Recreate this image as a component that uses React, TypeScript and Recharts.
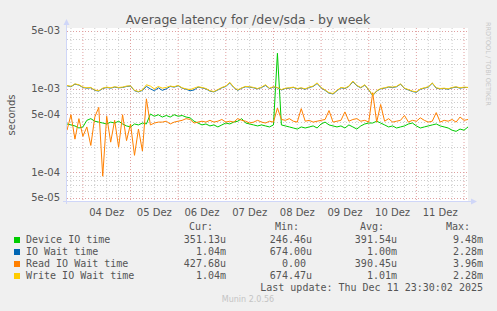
import React from "react"
import { LineChart, Line, XAxis, YAxis, CartesianGrid } from "recharts"

// sampling of the week graph (hours relative to 04 Dez 00:00)
const startHour = -8
const stepHours = 2

// Device IO time, units of 1e-4 s
const deviceIO = [
  3.8, 3.7, 3.6, 3.4, 3.5, 4.2, 4.4, 4.1, 4.0, 3.9, 3.8,
  4.0, 3.9, 4.1, 3.8, 3.6, 3.5, 3.8, 3.7, 3.9, 3.8,
  5.0, 4.7, 4.9, 4.6, 4.8, 4.6, 4.9, 4.7, 4.8, 4.6,
  4.5, 4.1, 3.9, 3.7, 3.8, 3.6, 3.7, 3.5, 3.7, 3.9,
  3.8, 4.0, 4.1, 4.4, 3.9, 3.8, 3.7, 3.6, 3.7, 3.6,
  3.5, 3.7, 26.7, 3.7, 3.6, 3.5, 3.4, 3.3, 3.5, 3.4,
  3.5, 3.6, 3.4, 3.8, 4.0, 3.7, 3.6, 3.5, 3.6, 3.4,
  3.7, 3.5, 3.3, 3.6, 3.8, 3.9, 3.9, 4.1, 3.9, 3.7,
  3.5, 3.6, 3.4, 3.5, 3.6, 3.8, 3.9, 3.6, 3.4, 3.5,
  3.6, 3.7, 3.8, 3.6, 3.5, 3.4, 3.2, 3.1, 3.3, 3.2, 3.5,
]

// IO Wait time, units of 1e-3 s
const ioWait = [
  1.09, 1.06, 1.14, 1.11, 1.04, 1.02, 1.03, 0.96, 0.94, 1.01, 1.04,
  1.02, 1.05, 1.03, 1.04, 1.07, 1.08, 0.95, 0.92, 0.96, 1.07,
  1.0, 0.95, 1.03, 0.96, 1.0, 1.07, 1.05, 1.09, 1.02, 0.99,
  0.95, 0.97, 1.05, 1.03, 1.0, 0.94, 0.92, 0.97, 1.03, 1.07,
  1.18, 1.04, 0.96, 1.02, 1.06, 1.05, 1.03, 1.0, 1.04, 1.1,
  1.01, 1.05, 1.03, 0.97, 1.01, 1.02, 1.04, 1.0, 1.02, 0.99,
  1.04, 1.07, 1.16, 1.03, 0.96, 0.89, 0.87, 0.95, 1.03, 1.01,
  1.07, 1.22, 1.09, 1.03, 1.11, 0.97, 0.83, 0.94, 1.0, 1.02,
  1.05, 1.04, 1.06, 1.14, 1.01, 0.97, 0.93, 0.91, 0.99, 1.02,
  1.05, 1.17, 1.02, 1.0, 1.01, 0.99, 1.03, 1.05, 1.02, 1.04, 1.04,
]

// Read IO Wait time, units of 1e-4 s
const readWait = [
  3.2, 4.9, 2.5, 4.4, 2.7, 3.5, 2.1, 4.6, 6.0, 0.9, 4.7,
  2.3, 4.2, 2.0, 4.9, 2.4, 3.8, 1.6, 3.3, 1.8, 7.6,
  3.7, 3.9, 4.0, 4.0, 4.1, 3.8, 4.0, 4.1, 4.2, 4.4,
  4.3, 3.9, 4.0, 4.1, 4.0, 4.2, 4.0, 4.1, 4.3, 4.0,
  4.1, 4.0, 4.4, 4.2, 4.1, 3.9, 4.0, 4.2, 4.0, 3.9,
  4.1, 4.0, 5.9, 4.3, 4.2, 4.4, 4.1, 4.0, 5.8, 4.1,
  4.2, 4.0, 4.1, 4.2, 4.3, 5.5, 4.0, 4.1, 4.2, 5.3,
  4.1, 4.3, 4.4, 4.1, 4.2, 4.0, 9.0, 4.0, 6.5, 4.1,
  4.4, 4.0, 4.1, 4.2, 4.8, 4.0, 4.2, 4.1, 4.5, 4.2,
  4.0, 4.1, 5.2, 4.0, 4.2, 4.1, 4.3, 4.0, 4.6, 4.2, 4.3,
]

// Write IO Wait time, units of 1e-3 s
const writeWait = [
  1.1, 1.07, 1.15, 1.12, 1.05, 1.03, 1.04, 0.97, 0.95, 1.02, 1.05,
  1.03, 1.06, 1.04, 1.05, 1.08, 1.09, 0.96, 0.93, 0.97, 1.12,
  1.08, 1.0, 1.07, 1.02, 1.04, 1.08, 1.06, 1.1, 1.03, 1.0,
  0.98, 1.02, 1.06, 1.04, 1.01, 0.95, 0.93, 0.98, 1.04, 1.08,
  1.2, 1.05, 0.97, 1.03, 1.07, 1.06, 1.04, 1.01, 1.05, 1.12,
  1.02, 1.06, 1.04, 0.98, 1.02, 1.03, 1.05, 1.01, 1.03, 1.0,
  1.05, 1.08, 1.18, 1.04, 0.97, 0.9, 0.88, 0.96, 1.04, 1.02,
  1.08, 1.24, 1.1, 1.04, 1.12, 0.98, 0.84, 0.95, 1.01, 1.03,
  1.06, 1.05, 1.07, 1.15, 1.02, 0.98, 0.94, 0.92, 1.0, 1.03,
  1.06, 1.18, 1.03, 1.01, 1.02, 1.0, 1.04, 1.06, 1.03, 1.05, 1.04,
]

const dayTicks = [12, 36, 60, 84, 108, 132, 156, 180]
const dayLabels = ["04 Dez", "05 Dez", "06 Dez", "07 Dez", "08 Dez", "09 Dez", "10 Dez", "11 Dez"]
const dayLines = [0, 24, 48, 72, 96, 120, 144, 168, 192]
const sixHourLines = [-6, 6, 12, 18, 30, 36, 42, 54, 60, 66, 78, 84, 90, 102, 108, 114, 126, 132, 138, 150, 156, 162, 174, 180, 186]

const yDomain = [4.54e-5, 5.36e-3]
const yTicks = [5e-5, 1e-4, 5e-4, 1e-3, 5e-3]
const yMinor = [6e-5, 7e-5, 8e-5, 9e-5, 2e-4, 3e-4, 4e-4, 6e-4, 7e-4, 8e-4, 9e-4, 2e-3, 3e-3, 4e-3]

const seriesNames = ["Device IO time", "IO Wait time", "Read IO Wait time", "Write IO Wait time"]
const seriesColors = ["#00cc00", "#0066b3", "#ff8000", "#ffcc00"]
const curValues = ["351.13u", "1.04m", "427.68u", "1.04m"]
const minValues = ["246.46u", "674.00u", "0.00 ", "674.47u"]
const avgValues = ["391.54u", "1.00m", "390.45u", "1.01m"]
const maxValues = ["9.48m", "2.28m", "3.96m", "2.28m"]

const data = deviceIO.map((d, i) => ({
  hour: startHour + i * stepHours,
  device: d * 1e-4,
  iowait: ioWait[i] * 1e-3,
  read: readWait[i] * 1e-4,
  write: writeWait[i] * 1e-3,
}))

const fmtExp = (v: number) => {
  const [m, e] = v.toExponential(0).split("e")
  const n = Math.abs(parseInt(e, 10))
  return `${m}e${e[0] === "-" ? "-" : "+"}${n < 10 ? "0" + n : n}`
}

const W = 497
const H = 311
const plotLeft = 67
const plotRight = 468
const plotTop = 28
const plotHeight = 173

// grid rows use the same log mapping as the y axis
const logRow = (v: number) => {
  const lo = Math.log(yDomain[0])
  const hi = Math.log(yDomain[1])
  return Math.round(plotTop + (plotHeight * (hi - Math.log(v))) / (hi - lo))
}

const minorGrid = "#cccccc"
const majorGrid = "#e0a0a0"
const textColor = "#555"
const sans = "'DejaVu Sans', sans-serif"
const mono = "'DejaVu Sans Mono', monospace"

function Txt({ x, y, right, center, children, style }: any) {
  const s: any = {
    position: "absolute",
    top: y - 6,
    lineHeight: "12px",
    fontFamily: mono,
    fontSize: 10,
    color: textColor,
    whiteSpace: "pre",
    ...style,
  }
  if (right !== undefined) s.right = W - right
  else if (center !== undefined) {
    s.left = center - 100
    s.width = 200
    s.textAlign = "center"
  } else s.left = x
  return <div style={s}>{children}</div>
}

export default function App() {
  return (
    <div style={{ position: "absolute", left: 0, top: 0, width: W, height: H, background: "#f0f0f0", overflow: "hidden" }}>
      {/* plot canvas and dotted grid rows under the chart */}
      <div style={{ position: "absolute", left: plotLeft, top: plotTop, width: plotRight - plotLeft, height: plotHeight, background: "#fff" }} />
      {yMinor.map((v) => (
        <div
          key={"m" + v}
          style={{
            position: "absolute",
            left: plotLeft,
            top: logRow(v),
            width: plotRight - plotLeft,
            height: 1,
            backgroundImage: `linear-gradient(to right, ${minorGrid} 1px, transparent 1px)`,
            backgroundSize: "3px 1px",
          }}
        />
      ))}
      {yTicks.map((v) => (
        <div
          key={"M" + v}
          style={{
            position: "absolute",
            left: plotLeft,
            top: logRow(v),
            width: plotRight - plotLeft,
            height: 1,
            backgroundImage: `linear-gradient(to right, ${majorGrid} 1px, transparent 1px)`,
            backgroundSize: "3px 1px",
          }}
        />
      ))}

      <div style={{ position: "absolute", left: 0, top: 0 }}>
        <LineChart width={W} height={H} data={data} margin={{ top: plotTop, right: W - plotRight, bottom: H - plotTop - plotHeight - 20, left: 0 }}>
          <CartesianGrid stroke={minorGrid} strokeDasharray="1 2" horizontal={false} verticalValues={sixHourLines} />
          <CartesianGrid stroke={majorGrid} strokeDasharray="1 2" horizontal={false} verticalValues={dayLines} />
          <XAxis
            dataKey="hour"
            type="number"
            domain={[-8, 192]}
            ticks={dayTicks}
            tickFormatter={(v: number) => dayLabels[dayTicks.indexOf(v)]}
            height={20}
            axisLine={false}
            tickLine={false}
            tickSize={0}
            tickMargin={8}
            tick={{ fill: textColor, fontSize: 10, fontFamily: sans }}
            interval={0}
          />
          <YAxis
            scale="log"
            domain={yDomain}
            allowDataOverflow
            ticks={yTicks}
            tickFormatter={fmtExp}
            width={plotLeft}
            axisLine={false}
            tickLine={false}
            tickSize={0}
            tickMargin={7}
            tick={{ fill: textColor, fontSize: 10, fontFamily: sans }}
            interval={0}
          />
          <Line dataKey="device" stroke={seriesColors[0]} strokeWidth={1} dot={false} isAnimationActive={false} />
          <Line dataKey="iowait" stroke={seriesColors[1]} strokeWidth={1} dot={false} isAnimationActive={false} />
          <Line dataKey="read" stroke={seriesColors[2]} strokeWidth={1} dot={false} isAnimationActive={false} />
          <Line dataKey="write" stroke={seriesColors[3]} strokeWidth={1} dot={false} isAnimationActive={false} />
        </LineChart>
      </div>

      <svg width={W} height={H} style={{ position: "absolute", left: 0, top: 0, pointerEvents: "none" }}>
        <line x1={66.5} y1={204} x2={66.5} y2={24} stroke="#cfd6f8" />
        <polygon points="63.5,25 69.5,25 66.5,19" fill="#cfd6f8" />
        <line x1={63} y1={201.5} x2={472} y2={201.5} stroke="#cfd6f8" />
        <polygon points="471,198.5 471,204.5 477,201.5" fill="#cfd6f8" />
        <text x={248} y={23.5} textAnchor="middle" fontFamily={sans} fontSize={12.5} fill={textColor}>
          Average latency for /dev/sda - by week
        </text>
        <text transform="translate(15,115) rotate(-90)" textAnchor="middle" fontFamily={sans} fontSize={10} fill={textColor}>
          seconds
        </text>
        <text transform="translate(486,22) rotate(90)" fontFamily={sans} fontSize={6.5} fill="#c8c8c8">
          RRDTOOL / TOBI OETIKER
        </text>
      </svg>

      <Txt right={213} y={227}>Cur:</Txt>
      <Txt right={299} y={227}>Min:</Txt>
      <Txt right={384} y={227}>Avg:</Txt>
      <Txt right={470} y={227}>Max:</Txt>
      {seriesNames.map((name, i) => {
        const y = 240 + i * 12
        return (
          <React.Fragment key={name}>
            <div style={{ position: "absolute", left: 14, top: y - 3, width: 6, height: 6, background: seriesColors[i] }} />
            <Txt x={26} y={y}>{name}</Txt>
            <Txt right={226} y={y}>{curValues[i]}</Txt>
            <Txt right={312} y={y}>{minValues[i]}</Txt>
            <Txt right={397} y={y}>{avgValues[i]}</Txt>
            <Txt right={483} y={y}>{maxValues[i]}</Txt>
          </React.Fragment>
        )
      })}
      <Txt right={483} y={288}>Last update: Thu Dec 11 23:30:02 2025</Txt>
      <Txt center={248} y={300} style={{ fontFamily: sans, fontSize: 8, color: "#c4c4c4" }}>Munin 2.0.56</Txt>
    </div>
  )
}
